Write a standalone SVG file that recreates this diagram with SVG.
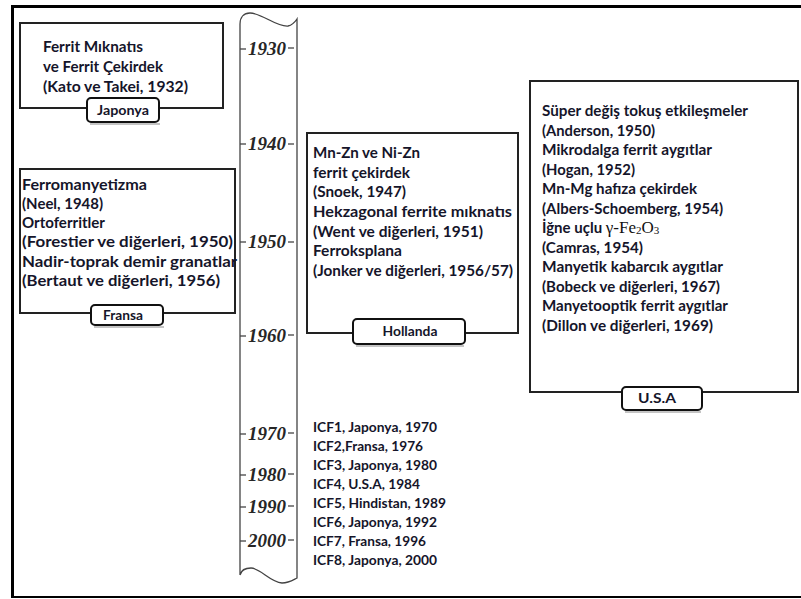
<svg xmlns="http://www.w3.org/2000/svg" width="801" height="599" viewBox="0 0 801 599">
<style>
.box{fill:none;stroke:#222;stroke-width:2}
.lab{fill:#fff;stroke:#111;stroke-width:2}
.shadow{fill:none;stroke:#c4c4c4;stroke-width:2}
.t{font-family:Lato,"Open Sans",sans-serif;font-weight:bold;font-size:15px;fill:#15152a}
.lt{font-family:Lato,"Open Sans",sans-serif;font-weight:bold;font-size:13px;fill:#15152a;text-anchor:middle}
.icf{font-family:Lato,"Open Sans",sans-serif;font-weight:bold;font-size:14px;fill:#15152a}
.yr{font-family:"Liberation Serif",serif;font-style:italic;font-weight:bold;font-size:19px;fill:#262626}
.tl{fill:none;stroke:#444;stroke-width:1.3}
.g{font-family:"Liberation Serif",serif;font-weight:normal;font-size:17px;fill:#111}
.sub{font-family:"Liberation Serif",serif;font-weight:normal;font-size:11px;fill:#111}
</style>
<rect width="801" height="599" fill="#fff"/>
<g id="frame">
<line x1="11" y1="6.5" x2="801" y2="6.5" stroke="#000" stroke-width="3"/>
<line x1="12.5" y1="5" x2="12.5" y2="598" stroke="#000" stroke-width="3"/>
<line x1="11" y1="597" x2="801" y2="597" stroke="#000" stroke-width="2"/>
</g>
<g id="timeline">
<path class="tl" d="M240,575 L240,24 C240,17 244,13 250,13 C262,13 276,27 288,26 C293,25 295,22 297,19 L297,578 C293,580 289,583 282,583 C270,582 260,568 251,568 C245,568 241,571 240,575"/>
<g class="tl">
<line x1="240" y1="49" x2="246" y2="49"/><line x1="288" y1="48" x2="294" y2="48"/>
<line x1="240" y1="144" x2="246" y2="144"/><line x1="288" y1="144" x2="294" y2="144"/>
<line x1="240" y1="242" x2="246" y2="242"/><line x1="288" y1="242" x2="294" y2="242"/>
<line x1="240" y1="336" x2="246" y2="336"/><line x1="288" y1="335" x2="294" y2="335"/>
<line x1="240" y1="434" x2="246" y2="434"/><line x1="288" y1="433" x2="294" y2="433"/>
<line x1="240" y1="475" x2="246" y2="475"/><line x1="288" y1="474" x2="294" y2="474"/>
<line x1="240" y1="507" x2="246" y2="507"/><line x1="288" y1="506" x2="294" y2="506"/>
<line x1="240" y1="541" x2="246" y2="541"/><line x1="288" y1="540" x2="294" y2="540"/>
</g>
<text class="yr" x="248" y="55">1930</text>
<text class="yr" x="248" y="150">1940</text>
<text class="yr" x="248" y="248">1950</text>
<text class="yr" x="248" y="342">1960</text>
<text class="yr" x="248" y="440">1970</text>
<text class="yr" x="248" y="481">1980</text>
<text class="yr" x="248" y="513">1990</text>
<text class="yr" x="248" y="547">2000</text>
</g>
<g id="japonya">
<rect class="box" x="20" y="23" width="203" height="85"/>
<text class="t" x="43" y="52" textLength="100" lengthAdjust="spacingAndGlyphs">Ferrit Mıknatıs</text>
<text class="t" x="43" y="72" textLength="120" lengthAdjust="spacingAndGlyphs">ve Ferrit Çekirdek</text>
<text class="t" x="43" y="92" textLength="145" lengthAdjust="spacingAndGlyphs">(Kato ve Takei, 1932)</text>
<line class="shadow" x1="90" y1="124" x2="160" y2="124"/>
<rect class="lab" x="87" y="98" width="72" height="24" rx="4"/>
<text class="lt" x="123" y="115" textLength="52" lengthAdjust="spacingAndGlyphs">Japonya</text>
</g>
<g id="fransa">
<rect class="box" x="20" y="169" width="215" height="144"/>
<text class="t" x="22" y="190" textLength="125" lengthAdjust="spacingAndGlyphs">Ferromanyetizma</text>
<text class="t" x="22" y="209" textLength="81" lengthAdjust="spacingAndGlyphs">(Neel, 1948)</text>
<text class="t" x="22" y="228" textLength="83" lengthAdjust="spacingAndGlyphs">Ortoferritler</text>
<text class="t" x="22" y="247" textLength="211" lengthAdjust="spacingAndGlyphs">(Forestier ve diğerleri, 1950)</text>
<text class="t" x="22" y="267" textLength="215" lengthAdjust="spacingAndGlyphs">Nadir-toprak demir granatlar</text>
<text class="t" x="22" y="286" textLength="198" lengthAdjust="spacingAndGlyphs">(Bertaut ve diğerleri, 1956)</text>
<line class="shadow" x1="94" y1="327" x2="164" y2="327"/>
<rect class="lab" x="91" y="305" width="72" height="20" rx="4"/>
<text class="lt" x="123" y="320" textLength="40" lengthAdjust="spacingAndGlyphs">Fransa</text>
</g>
<g id="hollanda">
<rect class="box" x="307" y="133" width="211" height="200"/>
<text class="t" x="313" y="158" textLength="107" lengthAdjust="spacingAndGlyphs">Mn-Zn ve Ni-Zn</text>
<text class="t" x="313" y="178" textLength="97" lengthAdjust="spacingAndGlyphs">ferrit çekirdek</text>
<text class="t" x="313" y="197" textLength="93" lengthAdjust="spacingAndGlyphs">(Snoek, 1947)</text>
<text class="t" x="313" y="217" textLength="199" lengthAdjust="spacingAndGlyphs">Hekzagonal ferrite mıknatıs</text>
<text class="t" x="313" y="237" textLength="170" lengthAdjust="spacingAndGlyphs">(Went ve diğerleri, 1951)</text>
<text class="t" x="313" y="256" textLength="89" lengthAdjust="spacingAndGlyphs">Ferroksplana</text>
<text class="t" x="313" y="276" textLength="200" lengthAdjust="spacingAndGlyphs">(Jonker ve diğerleri, 1956/57)</text>
<line class="shadow" x1="356" y1="346" x2="464" y2="346"/>
<rect class="lab" x="353" y="319" width="112" height="25" rx="4"/>
<text class="lt" x="410" y="336" textLength="55" lengthAdjust="spacingAndGlyphs">Hollanda</text>
</g>
<g id="usa">
<rect class="box" x="530" y="81" width="268" height="311"/>
<text class="t" x="542" y="116" textLength="206" lengthAdjust="spacingAndGlyphs">Süper değiş tokuş etkileşmeler</text>
<text class="t" x="542" y="136" textLength="113" lengthAdjust="spacingAndGlyphs">(Anderson, 1950)</text>
<text class="t" x="542" y="155" textLength="170" lengthAdjust="spacingAndGlyphs">Mikrodalga ferrit aygıtlar</text>
<text class="t" x="542" y="175" textLength="93" lengthAdjust="spacingAndGlyphs">(Hogan, 1952)</text>
<text class="t" x="542" y="194" textLength="155" lengthAdjust="spacingAndGlyphs">Mn-Mg hafıza çekirdek</text>
<text class="t" x="542" y="214" textLength="181" lengthAdjust="spacingAndGlyphs">(Albers-Schoemberg, 1954)</text>
<text class="t" x="542" y="233">İğne uçlu <tspan class="g">γ-Fe</tspan><tspan class="sub" dy="1">2</tspan><tspan class="g" dy="-1">O</tspan><tspan class="sub" dy="1">3</tspan></text>
<text class="t" x="542" y="253" textLength="101" lengthAdjust="spacingAndGlyphs">(Camras, 1954)</text>
<text class="t" x="542" y="272" textLength="181" lengthAdjust="spacingAndGlyphs">Manyetik kabarcık aygıtlar</text>
<text class="t" x="542" y="292" textLength="178" lengthAdjust="spacingAndGlyphs">(Bobeck ve diğerleri, 1967)</text>
<text class="t" x="542" y="311" textLength="186" lengthAdjust="spacingAndGlyphs">Manyetooptik ferrit aygıtlar</text>
<text class="t" x="542" y="331" textLength="171" lengthAdjust="spacingAndGlyphs">(Dillon ve diğerleri, 1969)</text>
<line class="shadow" x1="625" y1="412" x2="701" y2="412"/>
<rect class="lab" x="622" y="387" width="80" height="23" rx="4"/>
<text class="lt" x="657" y="403" textLength="38" lengthAdjust="spacingAndGlyphs">U.S.A</text>
</g>
<g id="icf">
<text class="icf" x="313" y="432" textLength="124" lengthAdjust="spacingAndGlyphs">ICF1, Japonya, 1970</text>
<text class="icf" x="313" y="451" textLength="110" lengthAdjust="spacingAndGlyphs">ICF2,Fransa, 1976</text>
<text class="icf" x="313" y="470" textLength="124" lengthAdjust="spacingAndGlyphs">ICF3, Japonya, 1980</text>
<text class="icf" x="313" y="489" textLength="107" lengthAdjust="spacingAndGlyphs">ICF4, U.S.A, 1984</text>
<text class="icf" x="313" y="508" textLength="133" lengthAdjust="spacingAndGlyphs">ICF5, Hindistan, 1989</text>
<text class="icf" x="313" y="527" textLength="124" lengthAdjust="spacingAndGlyphs">ICF6, Japonya, 1992</text>
<text class="icf" x="313" y="546" textLength="113" lengthAdjust="spacingAndGlyphs">ICF7, Fransa, 1996</text>
<text class="icf" x="313" y="565" textLength="124" lengthAdjust="spacingAndGlyphs">ICF8, Japonya, 2000</text>
</g>
</svg>
